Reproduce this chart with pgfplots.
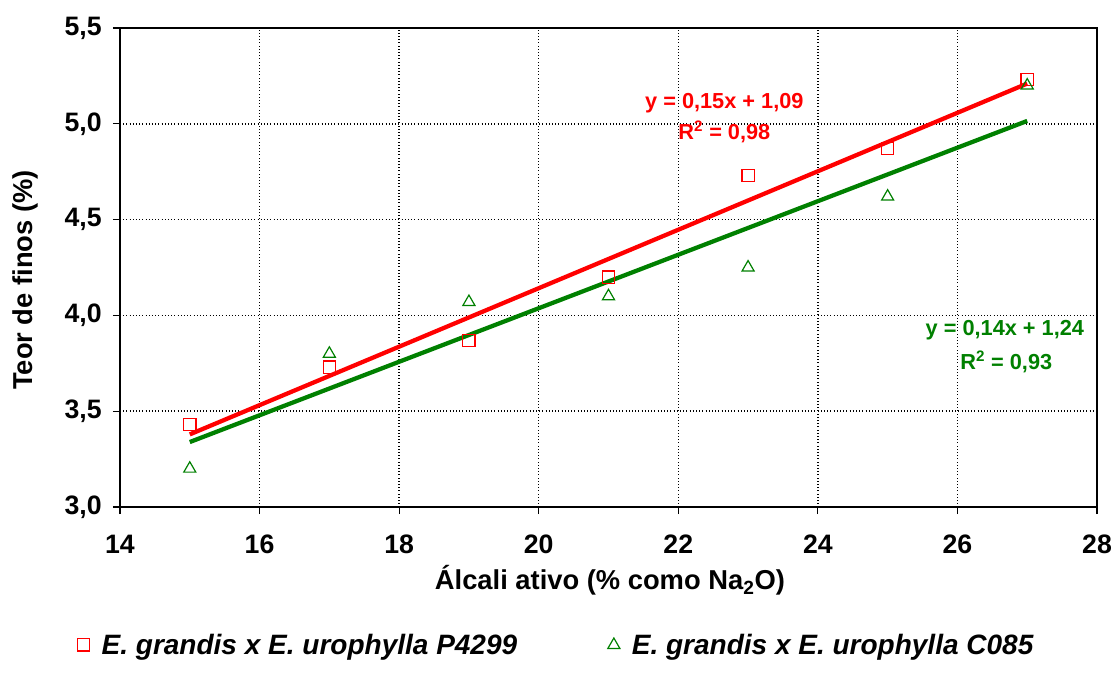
\documentclass[border=0pt]{standalone}
\usepackage{fontspec}
\setmainfont{Liberation Sans}
\usepackage{pgfplots}
\pgfplotsset{compat=1.18}
\definecolor{cred}{RGB}{255,0,0}
\definecolor{cgreen}{RGB}{0,128,0}
\begin{document}
\begin{tikzpicture}[x=1pt,y=1pt]
\useasboundingbox (-90pt,-133.5pt) rectangle (745.5pt,380.25pt);
\begin{axis}[
  at={(0pt,0pt)}, anchor=south west,
  scale only axis, width=732.75pt, height=359.25pt,
  xmin=14, xmax=28, ymin=3.0, ymax=5.5,
  xtick={14,16,...,28}, ytick={3.0,3.5,...,5.5},
  tick align=outside, major tick length=5.25pt,
  xtick pos=bottom, ytick pos=left,
  grid=major,
  major grid style={black, dotted, line width=1.1pt},
  axis line style={black, line width=0.8pt},
  tick style={black, line width=0.8pt},
  /pgf/number format/assume math mode=true,
  yticklabel style={font=\fontsize{20}{22}\selectfont\bfseries, xshift=-5pt, /pgf/number format/.cd, fixed, fixed zerofill, precision=1, use comma},
  xticklabel style={font=\fontsize{20}{22}\selectfont\bfseries, yshift=-12.5pt},
  xlabel={Álcali ativo (\% como Na\textsubscript{2}O)},
  ylabel={Teor de finos (\%)},
  label style={font=\fontsize{20.5}{22}\selectfont\bfseries},
  xlabel style={at={(axis description cs:0.5015,-0.173)}, anchor=base},
  ylabel style={at={(axis description cs:-0.0972,0.474)}, anchor=center},
  legend columns=2,
  legend style={at={(0.447,-0.288)}, anchor=center, draw=none, fill=none,
    font=\fontsize{21}{23}\selectfont\bfseries\itshape,
    /tikz/every odd column/.append style={column sep=7pt},
    /tikz/every even column/.append style={column sep=66pt}},
  legend cell align=left,
  clip=false,
]
\addplot[only marks, mark=square, mark size=4.6pt, mark options={draw=cred, line width=0.9pt}]
 coordinates {(15,3.43) (17,3.73) (19,3.87) (21,4.20) (23,4.73) (25,4.87) (27,5.23)};
\addlegendentry{E. grandis x E. urophylla P4299}
\addplot[only marks, mark=triangle, mark size=5.2pt, mark options={draw=cgreen, line width=0.9pt}]
 coordinates {(15,3.20) (17,3.80) (19,4.07) (21,4.10) (23,4.25) (25,4.62) (27,5.20)};
\addlegendentry{E. grandis x E. urophylla C085}
\addplot[cred, line width=3.2pt, forget plot] coordinates {(15,3.379) (27,5.21)};
\addplot[cgreen, line width=3.2pt, forget plot] coordinates {(15,3.339) (27,5.015)};
\node[cred, font=\fontsize{16.3}{18}\selectfont\bfseries] at (axis cs:22.66,5.109) {y = 0,15x + 1,09};
\node[cred, font=\fontsize{16.3}{18}\selectfont\bfseries] at (axis cs:22.66,4.957) {R\textsuperscript{2} = 0,98};
\node[cgreen, font=\fontsize{16.3}{18}\selectfont\bfseries] at (axis cs:26.68,3.924) {y = 0,14x + 1,24};
\node[cgreen, font=\fontsize{16.3}{18}\selectfont\bfseries] at (axis cs:26.70,3.757) {R\textsuperscript{2} = 0,93};
\end{axis}
\end{tikzpicture}
\end{document}
